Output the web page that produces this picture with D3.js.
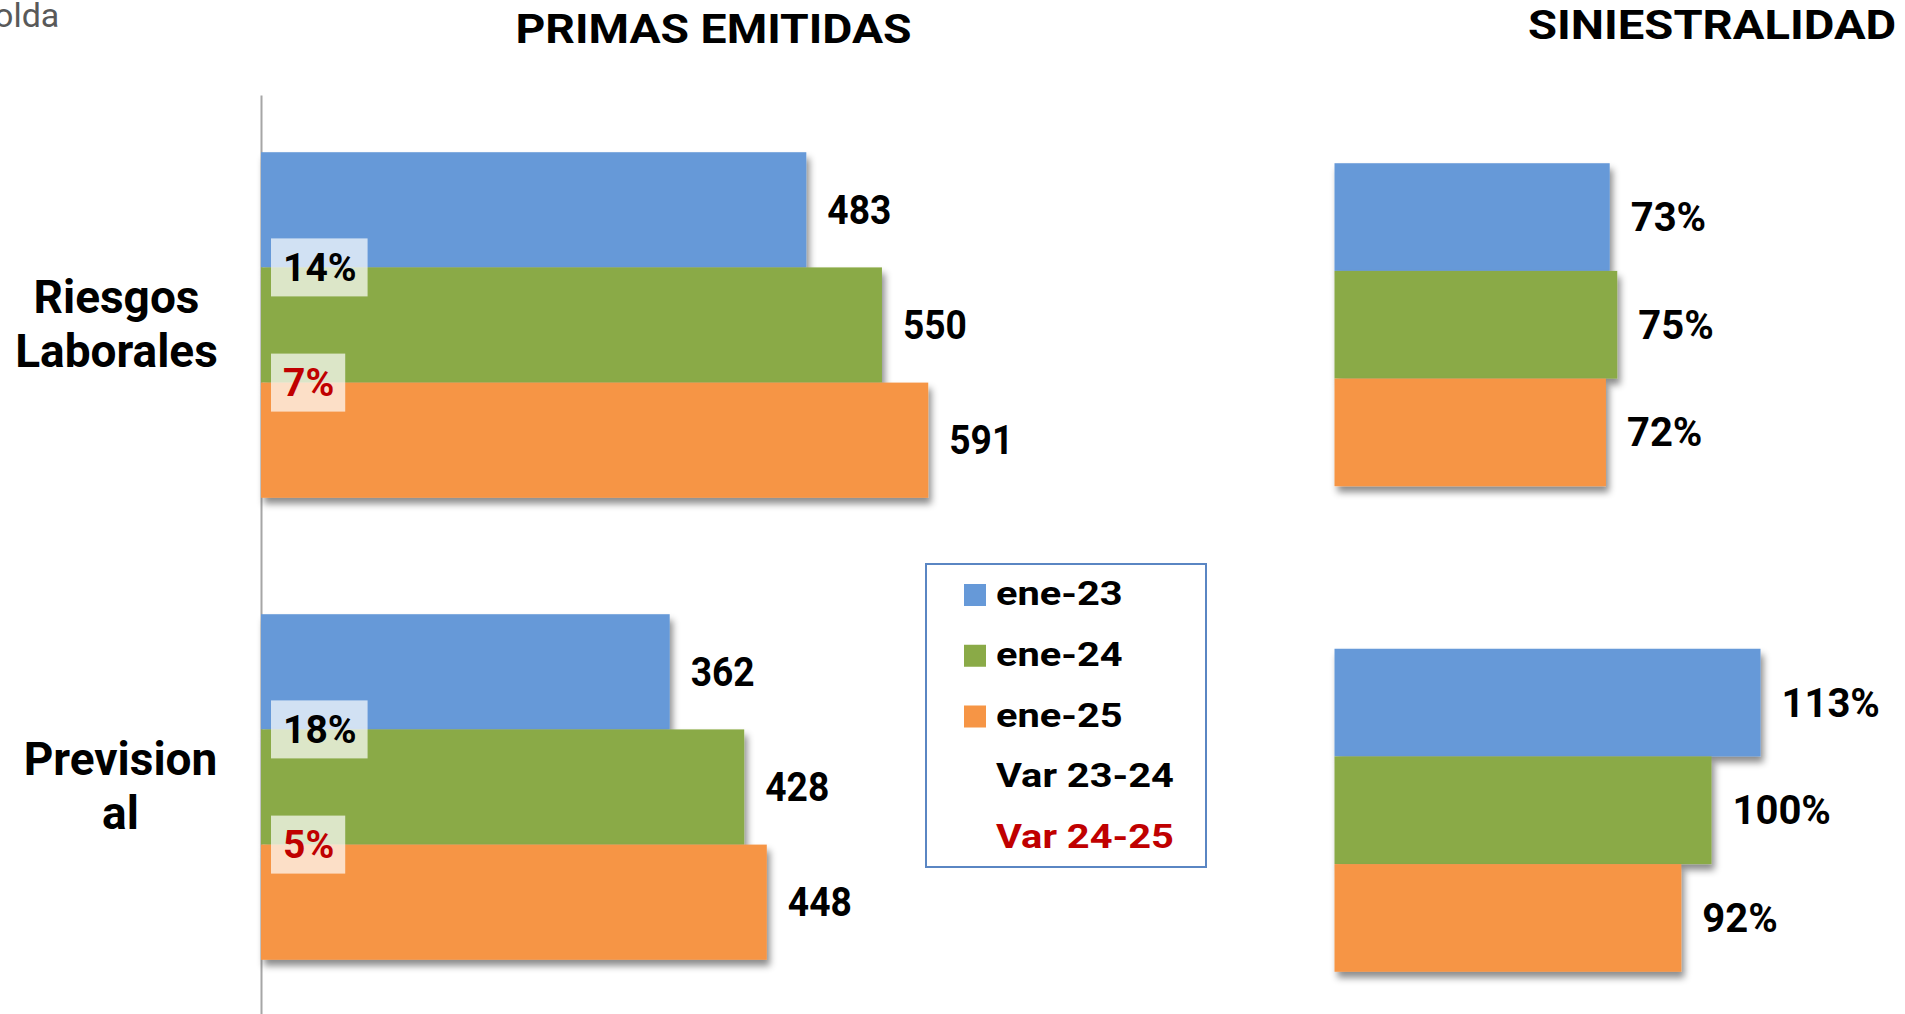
<!DOCTYPE html>
<html>
<head>
<meta charset="utf-8">
<script src="https://cdn.jsdelivr.net/npm/d3@7"></script>
<style>
  html, body { margin: 0; padding: 0; background: #fff; overflow: hidden; }
  svg { display: block; }
</style>
</head>
<body>
<script>
// ---------------- DATA ----------------
const categories = ["Riesgos Laborales", "Previsional"];
const categoryLines = [["Riesgos", "Laborales"], ["Prevision", "al"]];
const seriesNames = ["ene-23", "ene-24", "ene-25"];
const primas23 = [483, 362];
const primas24 = [550, 428];
const primas25 = [591, 448];
const sini23 = [73, 113];
const sini24 = [75, 100];
const sini25 = [72, 92];
const var2324 = ["14%", "18%"];
const var2425 = ["7%", "5%"];
const legendLabels = ["ene-23", "ene-24", "ene-25", "Var 23-24", "Var 24-25"];
const titles = ["PRIMAS EMITIDAS", "SINIESTRALIDAD"];
const cornerText = "olda";

// ---------------- STYLE ----------------
const colors = ["#6699D8", "#8AAA47", "#F69545"];
const red = "#C00000";
const W = 1905, H = 1014;
const FONT = "Roboto, 'Noto Sans', sans-serif";

const svg = d3.select("body").append("svg").attr("width", W).attr("height", H);

const defs = svg.append("defs");
const f = defs.append("filter").attr("id", "shadow")
  .attr("x", "-5%").attr("y", "-10%").attr("width", "115%").attr("height", "130%");
f.append("feDropShadow").attr("dx", 3).attr("dy", 6).attr("stdDeviation", 3.5)
  .attr("flood-color", "#000").attr("flood-opacity", 0.45);

const primasRows = categories.map((c, i) => [primas23[i], primas24[i], primas25[i]]);
const siniRows = categories.map((c, i) => [sini23[i], sini24[i], sini25[i]]);

function stretchedText(parent, x, y, txt, size, sx, anchor, fill, weight, dy) {
  const g = parent.append("g").attr("transform", `translate(${x},${y})`);
  return g.append("text").attr("transform", `scale(${sx},1)`)
    .attr("text-anchor", anchor).attr("dy", dy || null)
    .attr("font-family", FONT).attr("font-weight", weight).attr("font-size", size)
    .attr("fill", fill).text(txt);
}

// ---------------- LEFT CHART: PRIMAS ----------------
const xP = d3.scaleLinear().domain([0, 600]).range([261, 261 + 677.4]);
const yP = d3.scaleBand().domain(categories).range([94, 1018]).paddingInner(0.252).paddingOuter(0.126);
const ySubP = d3.scaleBand().domain(seriesNames).range([0, yP.bandwidth()]);

// axis line (category axis, no ticks)
const axisG = svg.append("g").attr("transform", `translate(${xP(0)},0)`)
  .call(d3.axisLeft(d3.scaleLinear().range([95, 1014])).ticks(0).tickSize(0));
axisG.select(".domain").attr("stroke", "#A6A6A6").attr("stroke-width", 2);
axisG.selectAll("text").remove();

categories.forEach((cat, ci) => {
  const g = svg.append("g").attr("transform", `translate(0,${yP(cat)})`);
  seriesNames.forEach((s, si) => {
    const v = primasRows[ci][si];
    g.append("rect")
      .attr("x", xP(0)).attr("y", ySubP(s))
      .attr("width", xP(v) - xP(0)).attr("height", ySubP.bandwidth())
      .attr("fill", colors[si]).attr("filter", "url(#shadow)");
  });
  seriesNames.forEach((s, si) => {
    const v = primasRows[ci][si];
    stretchedText(g, xP(v) + 21, ySubP(s) + ySubP.bandwidth() / 2, d3.format("d")(v),
      40, 0.93, "start", "#000", 700, "0.35em");
  });
  // variation labels
  [[var2324[ci], "#000", ySubP(seriesNames[1])], [var2425[ci], red, ySubP(seriesNames[2])]].forEach(([t, col, yb]) => {
    const lg = g.append("g");
    const txt = lg.append("text")
      .attr("x", xP(0) + 22).attr("y", yb).attr("dy", "0.35em")
      .attr("font-family", FONT).attr("font-weight", 700).attr("font-size", 39)
      .attr("fill", col).text(t);
    const bw = txt.node().getComputedTextLength();
    lg.insert("rect", "text")
      .attr("x", xP(0) + 10).attr("y", yb - 29)
      .attr("width", bw + 23).attr("height", 58)
      .attr("fill", "#fff").attr("fill-opacity", 0.7);
  });
  // category labels
  const cx = ci === 0 ? 116.5 : 120.5;
  const cy = yP(cat) + yP.bandwidth() / 2;
  categoryLines[ci].forEach((line, li) => {
    svg.append("text")
      .attr("x", cx).attr("y", cy - 12.5 + li * 54)
      .attr("text-anchor", "middle")
      .attr("font-family", FONT).attr("font-weight", 700).attr("font-size", 46)
      .attr("fill", "#000").text(line);
  });
});

// ---------------- RIGHT CHART: SINIESTRALIDAD ----------------
const xS = d3.scaleLinear().domain([0, 100]).range([1334.5, 1334.5 + 377]);
const yS = d3.scaleBand().domain(categories).range([82, 1053]).paddingInner(0.3347).paddingOuter(0.1673);
const ySubS = d3.scaleBand().domain(seriesNames).range([0, yS.bandwidth()]);

categories.forEach((cat, ci) => {
  const g = svg.append("g").attr("transform", `translate(0,${yS(cat)})`);
  seriesNames.forEach((s, si) => {
    const v = siniRows[ci][si];
    g.append("rect")
      .attr("x", xS(0)).attr("y", ySubS(s))
      .attr("width", xS(v) - xS(0)).attr("height", ySubS.bandwidth())
      .attr("fill", colors[si]).attr("filter", "url(#shadow)");
  });
  seriesNames.forEach((s, si) => {
    const v = siniRows[ci][si];
    g.append("text")
      .attr("x", xS(v) + 21).attr("y", ySubS(s) + ySubS.bandwidth() / 2).attr("dy", "0.35em")
      .attr("font-family", FONT).attr("font-weight", 700).attr("font-size", 40)
      .attr("fill", "#000").text(v + "%");
  });
});

// ---------------- TITLES ----------------
stretchedText(svg, 713.5, 43, titles[0], 41, 1.13, "middle", "#000", 700);
stretchedText(svg, 1528, 39, titles[1], 41, 1.15, "start", "#000", 700);

// corner text (cut off at the left edge, as in the reference)
svg.append("text").attr("x", -6).attr("y", 26.5)
  .attr("font-family", FONT).attr("font-weight", 400).attr("font-size", 34)
  .attr("fill", "#595959").text(cornerText);

// ---------------- LEGEND ----------------
const leg = svg.append("g");
leg.append("rect").attr("x", 926).attr("y", 564).attr("width", 280).attr("height", 303)
  .attr("fill", "#fff").attr("stroke", "#5A86C3").attr("stroke-width", 2);
legendLabels.forEach((lab, i) => {
  const by = 605 + i * 60.75;
  if (i < 3) {
    leg.append("rect").attr("x", 964).attr("y", by - 21).attr("width", 22).attr("height", 22)
      .attr("fill", colors[i]);
  }
  stretchedText(leg, 996, by, lab, 34, 1.17, "start", i === 4 ? red : "#000", 700);
});
</script>
</body>
</html>
